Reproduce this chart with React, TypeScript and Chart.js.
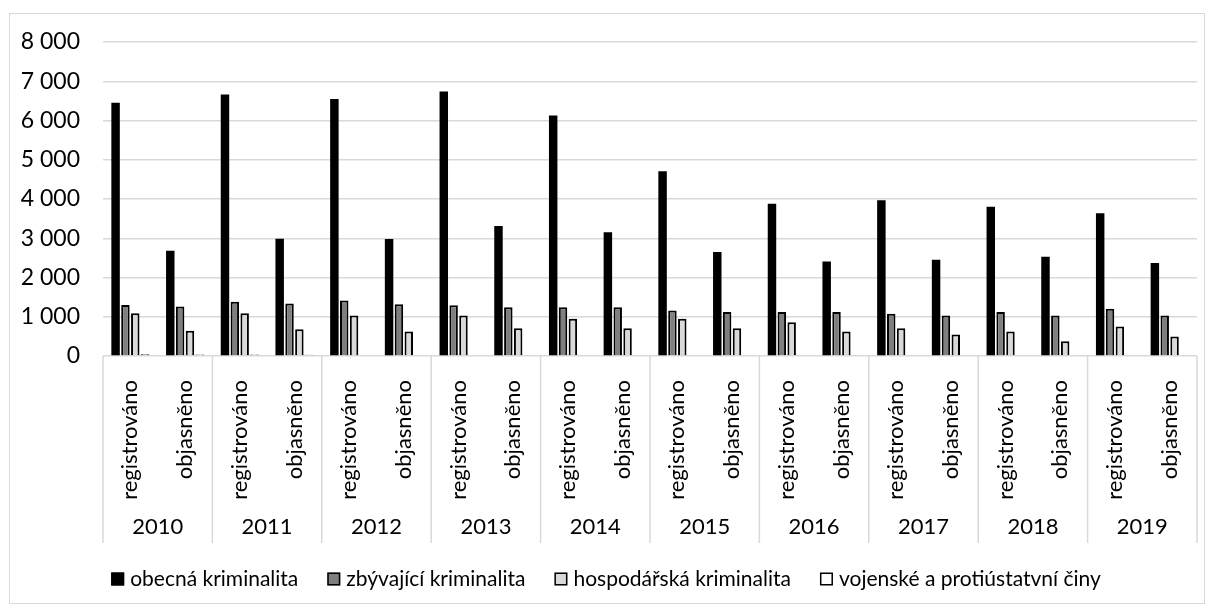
import React, { useEffect, useRef } from 'react';
import { Chart, registerables } from 'chart.js';

Chart.register(...registerables);

const years = ['2010', '2011', '2012', '2013', '2014', '2015', '2016', '2017', '2018', '2019'];
const stages = ['registrováno', 'objasněno'];
const seriesNames = ['obecná kriminalita', 'zbývající kriminalita', 'hospodářská kriminalita', 'vojenské a protiústatvní činy'];

const obecna = [6450, 2680, 6660, 2990, 6550, 2980, 6740, 3315, 6130, 3150, 4710, 2650, 3880, 2410, 3970, 2455, 3800, 2530, 3640, 2370];
const zbyvajici = [1300, 1260, 1380, 1335, 1415, 1320, 1290, 1240, 1240, 1240, 1160, 1120, 1120, 1120, 1075, 1035, 1120, 1035, 1205, 1035];
const hospodarska = [1090, 645, 1090, 680, 1035, 625, 1035, 710, 950, 710, 950, 710, 860, 625, 710, 545, 625, 375, 750, 500];
const vojenske = [45, 40, 40, 35, 0, 0, 0, 0, 0, 0, 0, 0, 0, 0, 0, 0, 0, 0, 0, 0];

const yTicks = [0, 1000, 2000, 3000, 4000, 5000, 6000, 7000, 8000];

const fills = ['#000000', '#7f7f7f', '#d9d9d9', '#ffffff'];
const FONT = 'Lato';
const FS = 22;
const LEGEND_FS = 21;

const labels: string[] = [];
years.forEach(() => stages.forEach((s) => labels.push(s)));

const fmt = (v: number) => String(v).replace(/\B(?=(\d{3})+(?!\d))/g, ' ');

const groupPlugin = {
  id: 'groupsAndLegend',
  afterDraw(chart: any) {
    const ctx = chart.ctx;
    const xs = chart.scales.x;
    const area = chart.chartArea;
    ctx.save();
    ctx.strokeStyle = '#d9d9d9';
    ctx.lineWidth = 1.5;
    const n = years.length;
    for (let i = 0; i <= n; i++) {
      let px: number;
      if (i === 0) px = area.left;
      else if (i === n) px = area.right;
      else px = (xs.getPixelForValue(2 * i - 1) + xs.getPixelForValue(2 * i)) / 2;
      ctx.beginPath();
      ctx.moveTo(px, area.bottom);
      ctx.lineTo(px, 543);
      ctx.stroke();
    }
    ctx.fillStyle = '#000';
    ctx.font = `${FS}px ${FONT}`;
    ctx.textAlign = 'center';
    ctx.textBaseline = 'middle';
    years.forEach((y, i) => {
      const cx = (xs.getPixelForValue(2 * i) + xs.getPixelForValue(2 * i + 1)) / 2;
      ctx.fillText(y, cx, 527);
    });
    ctx.font = `${LEGEND_FS}px ${FONT}`;
    const box = 13;
    const gapText = 6;
    const gapItem = 29;
    const widths = seriesNames.map((s) => ctx.measureText(s).width);
    const total = widths.reduce((a, w) => a + box + gapText + w, 0) + gapItem * (seriesNames.length - 1);
    let lx = 606 - total / 2;
    const ly = 579;
    ctx.textAlign = 'left';
    seriesNames.forEach((s, i) => {
      ctx.fillStyle = fills[i];
      ctx.fillRect(lx, ly - box / 2, box, box);
      ctx.strokeStyle = '#000';
      ctx.lineWidth = 1.5;
      ctx.strokeRect(lx + 0.75, ly - box / 2 + 0.75, box - 1.5, box - 1.5);
      ctx.fillStyle = '#000';
      ctx.fillText(s, lx + box + gapText, ly);
      lx += box + gapText + widths[i] + gapItem;
    });
    ctx.strokeStyle = '#d9d9d9';
    ctx.lineWidth = 1;
    ctx.strokeRect(9.5, 13.5, 1195, 590);
    ctx.restore();
  },
};

export default function App() {
  const ref = useRef<HTMLCanvasElement | null>(null);
  useEffect(() => {
    if (!ref.current) return;
    const datasets = [obecna, zbyvajici, hospodarska, vojenske].map((d, i) => ({
      label: seriesNames[i],
      data: d,
      backgroundColor: fills[i],
      borderColor: '#000000',
      borderWidth: i === 0 ? 0 : 2,
      categoryPercentage: 0.72,
      barPercentage: 0.86,
    }));
    const chart = new Chart(ref.current, {
      type: 'bar',
      data: { labels, datasets },
      options: {
        responsive: false,
        animation: false,
        devicePixelRatio: 1,
        layout: { padding: { left: 0, top: 42, right: 17, bottom: 0 } },
        plugins: { legend: { display: false }, tooltip: { enabled: false } },
        scales: {
          x: {
            grid: { display: false },
            border: { display: false },
            ticks: {
              autoSkip: false,
              minRotation: 90,
              maxRotation: 90,
              padding: 16,
              color: '#000',
              font: { family: FONT, size: FS },
            },
            afterFit: (s: any) => {
              s.height = 256;
            },
          },
          y: {
            min: 0,
            max: 8000,
            afterBuildTicks: (s: any) => {
              s.ticks = yTicks.map((v) => ({ value: v }));
            },
            grid: { color: '#d9d9d9', lineWidth: 1.5, drawTicks: false },
            border: { display: false },
            ticks: {
              padding: 23,
              color: '#000',
              font: { family: FONT, size: 23 },
              callback: (v: any) => fmt(Number(v)),
            },
            afterFit: (s: any) => {
              s.width = 103;
            },
          },
        },
      },
      plugins: [groupPlugin],
    });
    return () => chart.destroy();
  }, []);
  return (
    <div style={{ position: 'fixed', left: 0, top: 0, width: 1214, height: 612, background: '#fff' }}>
      <canvas ref={ref} width={1214} height={612} style={{ display: 'block' }} />
    </div>
  );
}
